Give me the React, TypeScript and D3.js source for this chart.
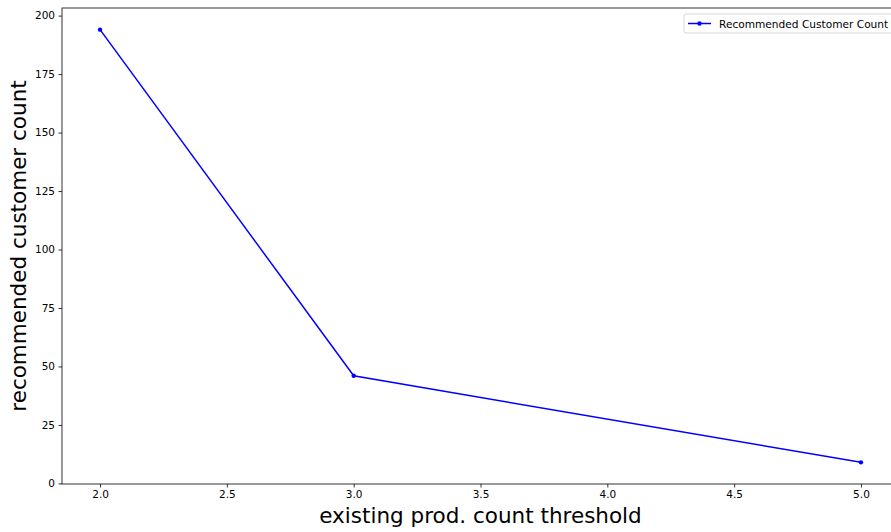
import React, { useEffect, useRef } from 'react';
import * as d3 from 'd3';

const thresholds = [2, 3, 5];
const customerCounts = [194, 46, 9];
const xTicks = [2.0, 2.5, 3.0, 3.5, 4.0, 4.5, 5.0];
const yTicks = [0, 25, 50, 75, 100, 125, 150, 175, 200];
const seriesName = 'Recommended Customer Count';

const width = 891;
const height = 532;
const margin = { top: 8, right: -8, bottom: 48, left: 62 };

export default function App() {
  const ref = useRef<SVGSVGElement>(null);

  useEffect(() => {
    const svg = d3.select(ref.current);
    svg.selectAll('*').remove();
    const font = 'DejaVu Sans, sans-serif';

    const x = d3.scaleLinear().domain([1.85, 5.15]).range([margin.left, width - margin.right]);
    const y = d3.scaleLinear().domain([-0.25, 203.25]).range([height - margin.bottom, margin.top]);

    svg.append('rect').attr('width', width).attr('height', height).attr('fill', '#fff');

    // axes
    const xAxis = d3.axisBottom(x).tickValues(xTicks).tickFormat(d3.format('.1f')).tickSize(3.5).tickPadding(3.5);
    const yAxis = d3.axisLeft(y).tickValues(yTicks).tickFormat(d3.format('d')).tickSize(3.5).tickPadding(3.5);

    const gx = svg.append('g').attr('transform', `translate(0,${height - margin.bottom})`).call(xAxis);
    const gy = svg.append('g').attr('transform', `translate(${margin.left},0)`).call(yAxis);
    [gx, gy].forEach((g) => {
      g.select('.domain').remove();
      g.selectAll('text').attr('font-family', font).attr('font-size', 10.5).attr('fill', '#000');
      g.selectAll('line').attr('stroke', '#000').attr('stroke-width', 0.8);
    });

    // frame
    svg.append('rect')
      .attr('x', margin.left)
      .attr('y', margin.top)
      .attr('width', width - margin.right - margin.left)
      .attr('height', height - margin.bottom - margin.top)
      .attr('fill', 'none')
      .attr('stroke', '#000')
      .attr('stroke-width', 0.8);

    // line
    const data = thresholds.map((t, i) => [t, customerCounts[i]] as [number, number]);
    const line = d3.line<[number, number]>().x((d) => x(d[0])).y((d) => y(d[1]));
    svg.append('path')
      .attr('d', line(data))
      .attr('fill', 'none')
      .attr('stroke', '#0000ff')
      .attr('stroke-width', 1.5);
    svg.append('g')
      .selectAll('circle')
      .data(data)
      .enter()
      .append('circle')
      .attr('cx', (d) => x(d[0]))
      .attr('cy', (d) => y(d[1]))
      .attr('r', 2.2)
      .attr('fill', '#0000ff');

    // axis labels
    svg.append('text')
      .attr('x', (margin.left + width - margin.right) / 2)
      .attr('y', 523)
      .attr('text-anchor', 'middle')
      .attr('font-family', font)
      .attr('font-size', 21.5)
      .text('existing prod. count threshold');
    svg.append('text')
      .attr('transform', `translate(26,${(margin.top + height - margin.bottom) / 2}) rotate(-90)`)
      .attr('text-anchor', 'middle')
      .attr('font-family', font)
      .attr('font-size', 21.5)
      .text('recommended customer count');

    // legend
    const lg = svg.append('g').attr('transform', 'translate(684,14)');
    lg.append('rect')
      .attr('width', 220)
      .attr('height', 19)
      .attr('rx', 2)
      .attr('fill', '#fff')
      .attr('stroke', '#ccc')
      .attr('stroke-width', 0.8);
    lg.append('line').attr('x1', 4).attr('x2', 27).attr('y1', 9.5).attr('y2', 9.5)
      .attr('stroke', '#0000ff').attr('stroke-width', 1.5);
    lg.append('circle').attr('cx', 15.5).attr('cy', 9.5).attr('r', 2.2).attr('fill', '#0000ff');
    lg.append('text')
      .attr('x', 35)
      .attr('y', 13.5)
      .attr('font-family', font)
      .attr('font-size', 10.6)
      .text(seriesName);
  }, []);

  return (
    <svg ref={ref} width={width} height={height} style={{ position: 'absolute', left: 0, top: 0 }} />
  );
}
